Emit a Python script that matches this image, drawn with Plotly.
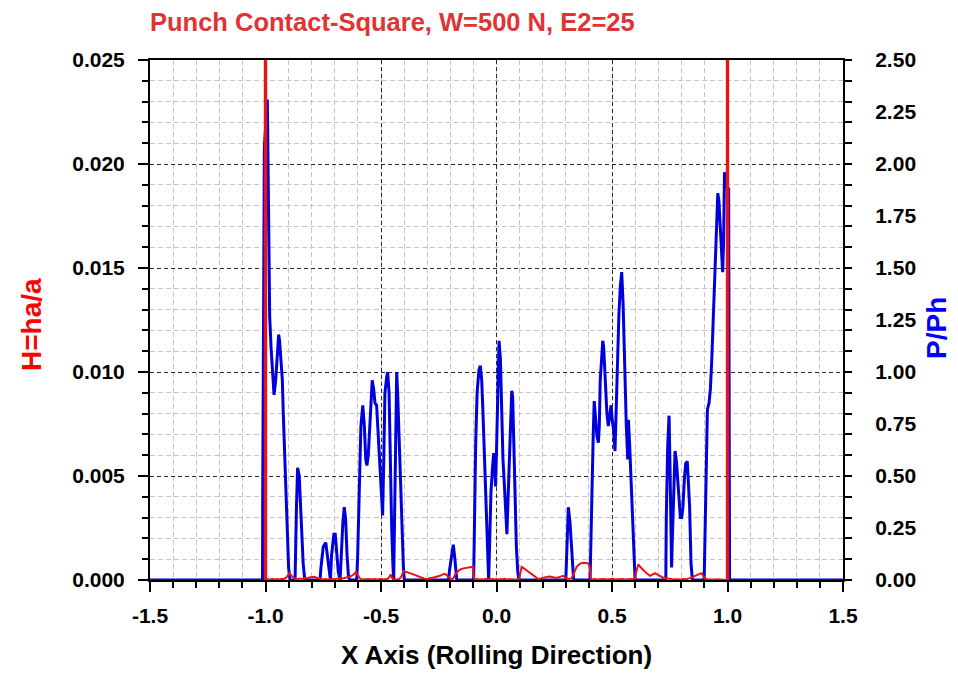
import plotly.graph_objects as go

# ---------------- data ----------------
# P/Ph (blue, right axis)
p_x = [-1.5, -1.013, -1.012, -1.009, -1.005, -0.992, -0.988, -0.983, -0.982, -0.976,
       -0.970, -0.963, -0.956, -0.950, -0.943, -0.939, -0.933, -0.927, -0.923, -0.918,
       -0.913, -0.908, -0.904, -0.900, -0.894, -0.872, -0.866, -0.861, -0.854, -0.849,
       -0.844, -0.837, -0.830, -0.764, -0.760, -0.750, -0.739, -0.731, -0.725, -0.719,
       -0.714, -0.704, -0.698, -0.692, -0.685, -0.677, -0.672, -0.665, -0.659, -0.653,
       -0.647, -0.641, -0.636, -0.605, -0.601, -0.595, -0.587, -0.579, -0.572, -0.566,
       -0.561, -0.555, -0.549, -0.543, -0.538, -0.532, -0.526, -0.519, -0.514, -0.509,
       -0.503, -0.497, -0.493, -0.488, -0.483, -0.475, -0.471, -0.465, -0.460, -0.454,
       -0.448, -0.445, -0.442, -0.436, -0.432, -0.428, -0.422, -0.416, -0.411, -0.403,
       -0.399, -0.208, -0.203, -0.194, -0.187, -0.181, -0.175, -0.172, -0.099, -0.096,
       -0.090, -0.084, -0.076, -0.070, -0.064, -0.059, -0.053, -0.047, -0.041, -0.037,
       -0.034, -0.030, -0.024, -0.018, -0.012, -0.008, -0.004, 0.000, 0.005, 0.011,
       0.017, 0.020, 0.022, 0.028, 0.034, 0.040, 0.045, 0.051, 0.058, 0.066,
       0.070, 0.074, 0.080, 0.086, 0.092, 0.097, 0.300, 0.304, 0.311, 0.318,
       0.325, 0.334, 0.405, 0.409, 0.415, 0.419, 0.423, 0.429, 0.435, 0.441,
       0.445, 0.449, 0.455, 0.460, 0.464, 0.470, 0.474, 0.478, 0.484, 0.490,
       0.496, 0.501, 0.507, 0.513, 0.519, 0.524, 0.530, 0.536, 0.542, 0.548,
       0.553, 0.556, 0.562, 0.568, 0.571, 0.576, 0.582, 0.588, 0.594, 0.600,
       0.733, 0.735, 0.741, 0.747, 0.751, 0.755, 0.758, 0.761, 0.767, 0.773,
       0.779, 0.784, 0.790, 0.796, 0.802, 0.807, 0.813, 0.819, 0.826, 0.831,
       0.836, 0.842, 0.848, 0.899, 0.903, 0.908, 0.913, 0.920, 0.926, 0.932,
       0.937, 0.943, 0.949, 0.953, 0.958, 0.963, 0.969, 0.975, 0.979, 0.983,
       0.987, 0.992, 1.000, 1.005, 1.007, 1.009, 1.5]
p_y = [0.0, 0.0, 0.42, 1.21, 2.08, 2.31, 1.92, 1.54, 1.27, 1.12,
       1.01, 0.89, 0.96, 1.06, 1.18, 1.15, 1.06, 0.96, 0.80, 0.64,
       0.42, 0.26, 0.16, 0.06, 0.0, 0.0, 0.35, 0.54, 0.50, 0.35,
       0.22, 0.08, 0.0, 0.0, 0.06, 0.16, 0.18, 0.10, 0.03, 0.0,
       0.12, 0.22, 0.22, 0.12, 0.04, 0.0, 0.15, 0.28, 0.35, 0.29,
       0.12, 0.02, 0.0, 0.0, 0.12, 0.37, 0.74, 0.84, 0.74, 0.58,
       0.55, 0.60, 0.71, 0.83, 0.96, 0.92, 0.85, 0.84, 0.74, 0.61,
       0.48, 0.35, 0.31, 0.58, 0.90, 0.98, 1.00, 0.90, 0.50, 0.26,
       0.06, 0.0, 0.24, 0.90, 1.00, 0.90, 0.69, 0.50, 0.28, 0.06,
       0.0, 0.0, 0.05, 0.13, 0.17, 0.11, 0.02, 0.0, 0.0, 0.26,
       0.66, 0.90, 1.01, 1.03, 0.96, 0.82, 0.63, 0.46, 0.26, 0.06,
       0.0, 0.16, 0.42, 0.53, 0.61, 0.55, 0.45, 0.62, 0.90, 1.15,
       1.06, 0.90, 0.77, 0.58, 0.46, 0.33, 0.22, 0.42, 0.66, 0.91,
       0.88, 0.66, 0.34, 0.16, 0.04, 0.0, 0.0, 0.15, 0.35, 0.28,
       0.16, 0.0, 0.0, 0.26, 0.50, 0.71, 0.86, 0.77, 0.69, 0.66,
       0.74, 0.96, 1.09, 1.15, 1.12, 0.97, 0.92, 0.80, 0.74, 0.78,
       0.84, 0.77, 0.72, 0.62, 0.90, 1.11, 1.28, 1.41, 1.48, 1.33,
       1.10, 0.94, 0.74, 0.58, 0.77, 0.66, 0.50, 0.29, 0.10, 0.0,
       0.0, 0.30, 0.64, 0.79, 0.55, 0.19, 0.06, 0.19, 0.42, 0.62,
       0.57, 0.48, 0.35, 0.30, 0.30, 0.35, 0.48, 0.56, 0.57, 0.48,
       0.35, 0.08, 0.0, 0.0, 0.30, 0.64, 0.82, 0.85, 0.92, 1.06,
       1.22, 1.35, 1.54, 1.73, 1.86, 1.82, 1.69, 1.60, 1.48, 1.62,
       1.96, 1.93, 1.88, 1.88, 0.62, 0.0, 0.0]

# H = ha/a (red, left axis)
h_x = [-1.003, -1.003, -0.997, -0.997, -0.990, -0.980, -0.970, -0.960, -0.950, -0.940,
       -0.930, -0.920, -0.910, -0.905, -0.897, -0.890, -0.880, -0.870, -0.860, -0.850,
       -0.840, -0.830, -0.820, -0.810, -0.800, -0.790, -0.775, -0.760, -0.750, -0.740,
       -0.730, -0.720, -0.710, -0.700, -0.690, -0.680, -0.670, -0.660, -0.650, -0.635,
       -0.620, -0.608, -0.598, -0.590, -0.580, -0.570, -0.560, -0.550, -0.540, -0.530,
       -0.520, -0.510, -0.500, -0.490, -0.480, -0.470, -0.465, -0.458, -0.452, -0.445,
       -0.440, -0.430, -0.420, -0.410, -0.403, -0.390, -0.375, -0.360, -0.345, -0.331,
       -0.315, -0.302, -0.285, -0.273, -0.260, -0.245, -0.230, -0.223, -0.210, -0.200,
       -0.194, -0.185, -0.179, -0.168, -0.158, -0.143, -0.129, -0.115, -0.102, -0.098,
       -0.095, -0.085, -0.075, -0.065, -0.055, -0.045, -0.035, -0.025, -0.015, -0.005,
       0.005, 0.015, 0.025, 0.035, 0.045, 0.055, 0.065, 0.075, 0.085, 0.095,
       0.100, 0.104, 0.109, 0.120, 0.131, 0.145, 0.160, 0.171, 0.181, 0.192,
       0.203, 0.217, 0.231, 0.245, 0.260, 0.275, 0.289, 0.300, 0.311, 0.325,
       0.335, 0.347, 0.360, 0.376, 0.390, 0.398, 0.404, 0.408, 0.415, 0.425,
       0.435, 0.445, 0.455, 0.465, 0.475, 0.485, 0.495, 0.505, 0.515, 0.525,
       0.535, 0.545, 0.555, 0.565, 0.575, 0.585, 0.595, 0.600, 0.605, 0.614,
       0.625, 0.636, 0.650, 0.665, 0.676, 0.686, 0.697, 0.708, 0.720, 0.737,
       0.750, 0.765, 0.780, 0.795, 0.810, 0.823, 0.840, 0.852, 0.870, 0.888,
       0.895, 0.902, 0.912, 0.924, 0.935, 0.945, 0.955, 0.965, 0.975, 0.985,
       0.997, 0.997, 1.003, 1.003]
h_y = [0.0, 0.05, 0.05, 0.0, 0.00004, 0.00002, 0.00006, 0.00003, 0.00005, 0.00002,
       0.00006, 0.00004, 0.00012, 0.00022, 0.00033, 0.00025, 0.00012, 0.00005, 0.00004, 0.00007,
       0.00005, 0.00009, 0.00008, 0.00012, 0.00012, 0.00015, 0.00010, 0.00005, 0.00003, 0.00005,
       0.00002, 0.00004, 0.00006, 0.00004, 0.00007, 0.00008, 0.00006, 0.00010, 0.00012, 0.00015,
       0.00025, 0.00038, 0.00020, 0.00005, 0.00003, 0.00004, 0.00002, 0.00005, 0.00003, 0.00005,
       0.00002, 0.00004, 0.00005, 0.00003, 0.00004, 0.00006, 0.00012, 0.00027, 0.00010, 0.00003,
       0.00004, 0.00002, 0.00005, 0.00020, 0.00043, 0.00040, 0.00033, 0.00027, 0.00020, 0.00013,
       0.00007, 0.00005, 0.00008, 0.00012, 0.00016, 0.00020, 0.00028, 0.00030, 0.00018, 0.00006,
       0.00002, 0.00010, 0.00027, 0.00040, 0.00050, 0.00056, 0.00060, 0.00063, 0.00064, 0.00020,
       0.00003, 0.00005, 0.00002, 0.00004, 0.00003, 0.00006, 0.00002, 0.00005, 0.00003, 0.00004,
       0.00002, 0.00005, 0.00003, 0.00006, 0.00002, 0.00004, 0.00003, 0.00005, 0.00002, 0.00004,
       0.00010, 0.00040, 0.00063, 0.00055, 0.00046, 0.00033, 0.00020, 0.00010, 0.00004, 0.00008,
       0.00012, 0.00015, 0.00017, 0.00012, 0.00010, 0.00015, 0.00020, 0.00010, 0.00004, 0.00008,
       0.00030, 0.00063, 0.00078, 0.00083, 0.00082, 0.00080, 0.00060, 0.00005, 0.00003, 0.00005,
       0.00002, 0.00004, 0.00003, 0.00005, 0.00002, 0.00004, 0.00003, 0.00006, 0.00002, 0.00004,
       0.00003, 0.00005, 0.00002, 0.00004, 0.00003, 0.00005, 0.00004, 0.00010, 0.00040, 0.00075,
       0.00060, 0.00046, 0.00032, 0.00020, 0.00028, 0.00033, 0.00026, 0.00018, 0.00012, 0.00008,
       0.00005, 0.00003, 0.00004, 0.00002, 0.00005, 0.00004, 0.00010, 0.00017, 0.00025, 0.00033,
       0.00020, 0.00008, 0.00004, 0.00003, 0.00005, 0.00002, 0.00004, 0.00003, 0.00005, 0.00004,
       0.0, 0.05, 0.05, 0.0]

x_tickvals = [-1.5, -1.0, -0.5, 0.0, 0.5, 1.0, 1.5]
x_ticktext = ["-1.5", "-1.0", "-0.5", "0.0", "0.5", "1.0", "1.5"]
p_tickvals = [0.0, 0.25, 0.5, 0.75, 1.0, 1.25, 1.5, 1.75, 2.0, 2.25, 2.5]
p_ticktext = ["0.00", "0.25", "0.50", "0.75", "1.00", "1.25", "1.50", "1.75", "2.00", "2.25", "2.50"]

title_text = "Punch Contact-Square, W=500 N, E2=25"
x_title = "X Axis (Rolling Direction)"
h_title = "H=ha/a"
p_title = "P/Ph"

# ---------------- figure ----------------
FONT = "Liberation Sans, Arial, sans-serif"
BLUE = "#0000dc"
RED = "#ee1111"
MAJOR_GRID = "#2a2a2a"
MINOR_GRID = "#c4c4c4"

# the page body has an 8px margin; size the figure so it fills the window exactly
OFF = 8
W, H = 958 - OFF, 680 - OFF

fig = go.Figure()
fig.add_trace(go.Scatter(x=p_x, y=p_y, mode="lines", yaxis="y",
                         line=dict(color=BLUE, width=3), showlegend=False,
                         hoverinfo="skip"))
fig.add_trace(go.Scatter(x=h_x, y=h_y, mode="lines", yaxis="y2",
                         line=dict(color=RED, width=2), showlegend=False,
                         hoverinfo="skip"))
fig.add_trace(go.Scatter(x=[None], y=[None], mode="lines", yaxis="y3",
                         showlegend=False, hoverinfo="skip"))

tickfont = dict(family=FONT, size=21, color="black", weight="bold")

fig.update_layout(
    width=W, height=H,
    margin=dict(l=150 - OFF, r=115, t=60 - OFF, b=100),
    paper_bgcolor="white", plot_bgcolor="white",
    title=dict(text=title_text, xref="container", yref="container",
               x=(150 - OFF) / W, xanchor="left", y=1 - (22 - OFF) / H, yanchor="middle",
               font=dict(family=FONT, size=25.5, color="#e03333", weight="bold")),
    xaxis=dict(range=[-1.5, 1.5], tickmode="array", tickvals=x_tickvals,
               ticktext=x_ticktext, tickfont=tickfont,
               ticks="outside", ticklen=10, tickwidth=2, tickcolor="black",
               ticklabelstandoff=6,
               showline=True, linewidth=2, linecolor="black", mirror=True,
               showgrid=True, gridcolor=MAJOR_GRID, gridwidth=1, griddash="4px,3px",
               zeroline=False,
               minor=dict(tickmode="linear", tick0=0, dtick=0.1, ticks="outside",
                          ticklen=6, tickwidth=2, tickcolor="black",
                          showgrid=True, gridcolor=MINOR_GRID, gridwidth=1,
                          griddash="5px,3px")),
    yaxis=dict(range=[0, 2.5], side="right", tickmode="array", tickvals=p_tickvals,
               ticktext=p_ticktext, tickfont=tickfont, ticks="",
               ticklabelstandoff=26,
               showline=True, linewidth=2, linecolor="black",
               showgrid=False, zeroline=False),
    yaxis2=dict(range=[0, 0.025], side="left", overlaying="y",
                tickmode="linear", tick0=0, dtick=0.005, tickformat=".3f",
                tickfont=tickfont, ticks="outside", ticklen=10, tickwidth=2,
                tickcolor="black", ticklabelstandoff=9,
                showline=True, linewidth=2, linecolor="black",
                showgrid=True, gridcolor=MAJOR_GRID, gridwidth=1, griddash="4px,3px",
                zeroline=False,
                minor=dict(tickmode="linear", tick0=0, dtick=0.001, ticks="outside",
                           ticklen=6, tickwidth=2, tickcolor="black",
                           showgrid=True, gridcolor=MINOR_GRID, gridwidth=1,
                           griddash="5px,3px")),
    yaxis3=dict(range=[0, 2.5], side="right", overlaying="y",
                tickmode="linear", tick0=0, dtick=0.1, ticks="outside",
                ticklen=8, tickwidth=2, tickcolor="black",
                showticklabels=False, showline=False, showgrid=False,
                zeroline=False),
    annotations=[
        dict(text=x_title, xref="paper", yref="paper", x=0.5, y=-0.144,
             xanchor="center", yanchor="middle", showarrow=False,
             font=dict(family=FONT, size=26, color="black", weight="bold")),
        dict(text=h_title, xref="paper", yref="paper", x=(31 - 150) / 693,
             y=(580 - 325) / 520, xanchor="center", yanchor="middle",
             textangle=-90, showarrow=False,
             font=dict(family=FONT, size=28, color="#ff0000", weight="bold")),
        dict(text=p_title, xref="paper", yref="paper", x=(936 - 150) / 693,
             y=(580 - 328) / 520, xanchor="center", yanchor="middle",
             textangle=-90, showarrow=False,
             font=dict(family=FONT, size=28, color="#0000ff", weight="bold")),
    ],
)

fig.write_html("out.html")
